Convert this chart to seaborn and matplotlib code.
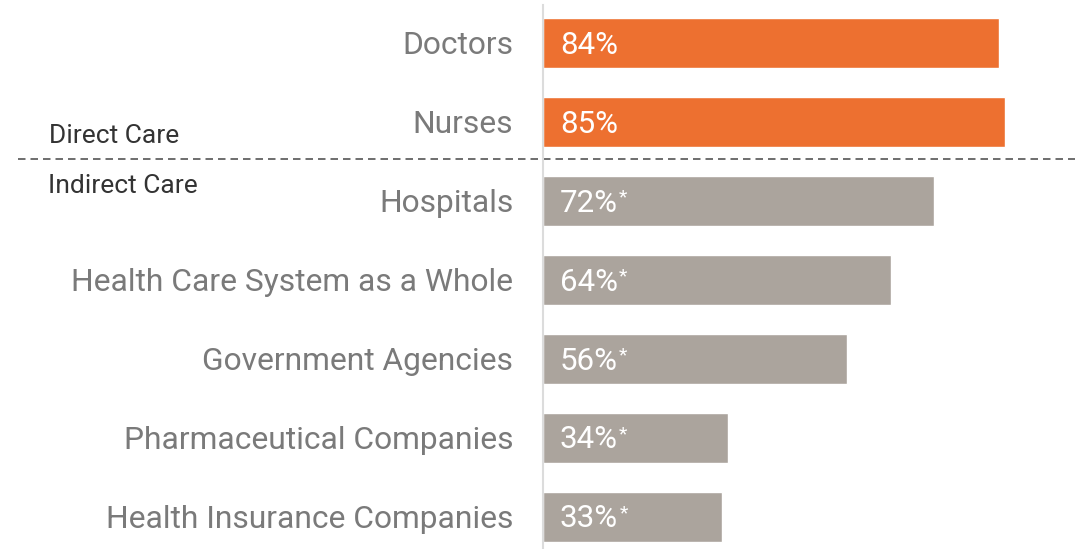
import matplotlib
matplotlib.use("Agg")
import matplotlib.pyplot as plt
import matplotlib.transforms as mtransforms
import seaborn as sns
import pandas as pd

# datos
categorias = ["Doctors", "Nurses", "Hospitals", "Health Care System as a Whole",
              "Government Agencies", "Pharmaceutical Companies", "Health Insurance Companies"]
valores = [84, 85, 72, 64, 56, 34, 33]
grupo = ["Direct Care", "Direct Care", "Indirect Care", "Indirect Care",
         "Indirect Care", "Indirect Care", "Indirect Care"]
asterisco = [False, False, True, True, True, True, True]

df = pd.DataFrame({"categoria": categorias, "valor": valores, "grupo": grupo})

sns.set_style("white")
plt.rcParams["font.family"] = ["Roboto", "DejaVu Sans"]

fig = plt.figure(figsize=(10.81, 5.49), dpi=100)
ax = fig.add_axes([543 / 1081, 0, 538 / 1081, 544 / 549])

sns.barplot(data=df, x="valor", y="categoria", hue="grupo", orient="h",
            palette={"Direct Care": "#ED7030", "Indirect Care": "#ABA49D"},
            dodge=False, width=0.633, legend=False, ax=ax, saturation=1)

ax.set_xlim(0, 99)
ax.set_ylim(6.4, -0.487)
ax.set_xlabel("")
ax.set_ylabel("")
ax.set_xticks([])
for s in ["top", "right", "bottom"]:
    ax.spines[s].set_visible(False)
ax.spines["left"].set_color("#dcdcdc")
ax.spines["left"].set_linewidth(1.5)
ax.tick_params(axis="y", length=0, pad=21.5, labelsize=22.9, labelcolor="#7a7a7a")
# subir un poco las etiquetas
subir = mtransforms.ScaledTranslation(0, 1 / 72, fig.dpi_scale_trans)
for lbl in ax.get_yticklabels():
    lbl.set_transform(lbl.get_transform() + subir)

# etiquetas de valores
for i, (v, a) in enumerate(zip(valores, asterisco)):
    t = ax.text(3.1, i + 0.02, f"{v}%", color="white", fontsize=22.5,
                va="center", ha="left")
    if a:
        ax.annotate("*", xy=(1.0, 1.02), xycoords=t, xytext=(1, 0),
                    textcoords="offset points", color="white", fontsize=14,
                    va="top", ha="left")

# separador
ax.plot([(18 - 543) / 538, (1075 - 543) / 538], [1.46, 1.46], transform=ax.get_yaxis_transform(),
        ls=(0, (4.5, 3)), color="#555555", lw=1.2, clip_on=False)

fig.text(49 / 1081, 1 - 143 / 549, "Direct Care", fontsize=19, color="#333333", va="baseline")
fig.text(48 / 1081, 1 - 193 / 549, "Indirect Care", fontsize=19, color="#333333", va="baseline")

plt.savefig("out.png", dpi=100)
